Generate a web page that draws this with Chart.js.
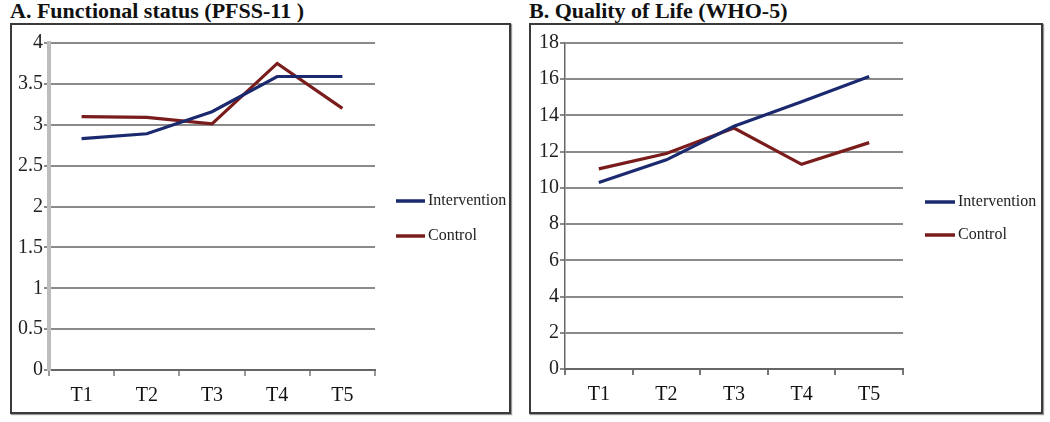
<!DOCTYPE html>
<html>
<head>
<meta charset="utf-8">
<script src="https://cdn.jsdelivr.net/npm/chart.js@4/dist/chart.umd.min.js"></script>
<style>
  html, body { margin: 0; padding: 0; background: #fff; }
  body { width: 1050px; height: 422px; position: relative; overflow: hidden; font-family: "Liberation Serif", "DejaVu Serif", serif; }
  .title { position: absolute; top: -2px; font-weight: bold; font-size: 22px; color: #111; white-space: nowrap; }
  .box { position: absolute; top: 23px; border: 2px solid #3a3a3a; box-shadow: 1px 1px 1px #999; background: #fff; }
  canvas { display: block; }
</style>
</head>
<body>
<div class="title" style="left:10px;">A. Functional status (PFSS-11 )</div>
<div class="title" style="left:529px;">B. Quality of Life (WHO-5)</div>
<div class="box" style="left:10px; width:497px; height:387px;"><canvas id="cA" width="497" height="387"></canvas></div>
<div class="box" style="left:529px; width:510px; height:387px;"><canvas id="cB" width="510" height="387"></canvas></div>
<script>
const categories = ['T1', 'T2', 'T3', 'T4', 'T5'];
const seriesNames = ['Intervention', 'Control'];
const pfssIntervention = [2.83, 2.89, 3.16, 3.59, 3.59];
const pfssControl = [3.10, 3.09, 3.01, 3.75, 3.20];
const whoIntervention = [10.3, 11.55, 13.4, 14.75, 16.15];
const whoControl = [11.05, 11.9, 13.3, 11.3, 12.5];
const pfssTicks = { max: 4, step: 0.5 };
const whoTicks = { max: 18, step: 2 };

const colors = ['#1b2a6e', '#7a1c1c'];
const FONT = '"Liberation Serif", "DejaVu Serif", serif';

const legendPlugin = {
  id: 'sideLegend',
  afterDraw(chart, args, opts) {
    const ctx = chart.ctx;
    const area = chart.chartArea;
    ctx.save();
    chart.data.datasets.forEach((ds, i) => {
      const y = opts.y0 + i * opts.gap;
      const x0 = area.right + opts.dx;
      ctx.strokeStyle = ds.borderColor;
      ctx.lineWidth = 3.5;
      ctx.beginPath();
      ctx.moveTo(x0, y);
      ctx.lineTo(x0 + opts.len, y);
      ctx.stroke();
      ctx.fillStyle = '#222';
      ctx.font = '16px ' + FONT;
      ctx.textBaseline = 'middle';
      ctx.textAlign = 'left';
      ctx.fillText(ds.label, x0 + opts.len + 3, y);
    });
    ctx.restore();
  }
};

function makeChart(id, a, b, tk, cfg) {
  return new Chart(document.getElementById(id), {
    type: 'line',
    data: {
      labels: categories,
      datasets: [
        { label: seriesNames[0], data: a, borderColor: colors[0], backgroundColor: colors[0], borderWidth: 3.2, pointRadius: 0, tension: 0, fill: false },
        { label: seriesNames[1], data: b, borderColor: colors[1], backgroundColor: colors[1], borderWidth: 3.2, pointRadius: 0, tension: 0, fill: false }
      ]
    },
    options: {
      responsive: false,
      animation: false,
      layout: { padding: { top: 18, right: cfg.padRight, left: 0, bottom: 0 } },
      plugins: {
        legend: { display: false },
        tooltip: { enabled: false },
        sideLegend: cfg.legend
      },
      scales: {
        x: {
          offset: true,
          grid: { offset: true, drawOnChartArea: false, drawTicks: true, tickLength: 6, color: cfg.xTickColor, lineWidth: 2 },
          border: { display: true, color: '#666', width: 2 },
          ticks: { color: '#111', font: { family: FONT, size: 20 }, padding: 8, maxRotation: 0 },
          afterFit(s) { s.height = cfg.bottom; }
        },
        y: {
          min: 0, max: tk.max,
          ticks: { stepSize: tk.step, color: '#222', font: { family: FONT, size: 20 }, padding: 1,
                   callback: (v) => String(Math.round(v * 10) / 10) },
          grid: { color: '#8a8a8a', lineWidth: 2, drawTicks: true, tickLength: 5 },
          border: { display: true, color: cfg.yAxisColor, width: cfg.yAxisWidth },
          afterFit(s) { s.width = cfg.left; }
        }
      }
    },
    plugins: [legendPlugin]
  });
}

makeChart('cA', pfssIntervention, pfssControl, pfssTicks, {
  padRight: 134, left: 37, bottom: 42, xTickColor: '#999', yAxisColor: '#bdbdbd', yAxisWidth: 4,
  legend: { dx: 21, len: 29, y0: 176, gap: 35 }
});
makeChart('cB', whoIntervention, whoControl, whoTicks, {
  padRight: 138, left: 34, bottom: 43, xTickColor: '#777', yAxisColor: '#666', yAxisWidth: 1.5,
  legend: { dx: 22, len: 30, y0: 177, gap: 33 }
});
</script>
</body>
</html>
